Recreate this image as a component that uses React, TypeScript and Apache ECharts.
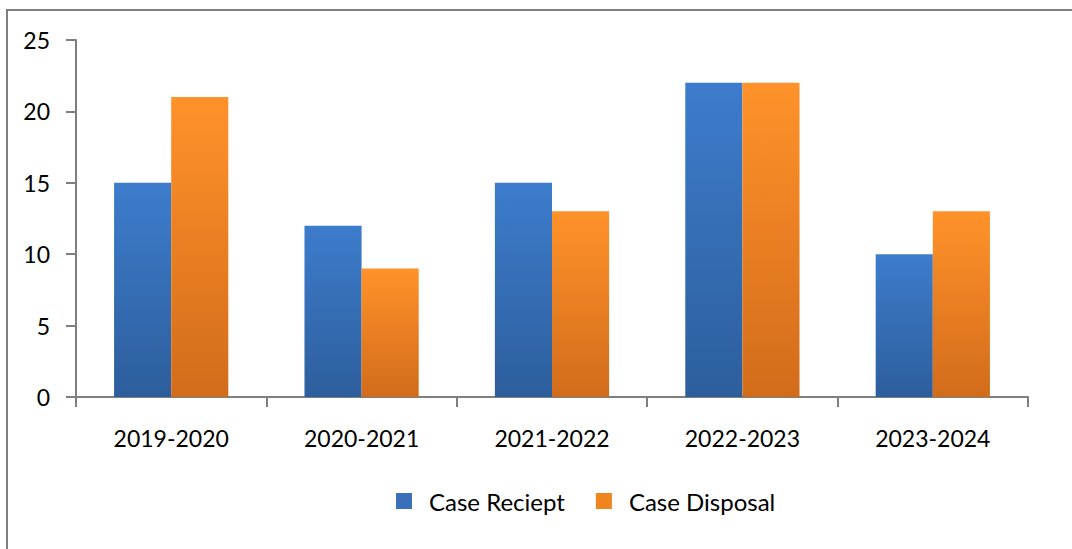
import React, { useEffect, useRef } from "react";
import * as echarts from "echarts";

const categories = ["2019-2020", "2020-2021", "2021-2022", "2022-2023", "2023-2024"];
const caseReceipt = [15, 12, 15, 22, 10];
const caseDisposal = [21, 9, 13, 22, 13];
const yTicks = [0, 5, 10, 15, 20, 25];

const FONT = "Lato, 'Open Sans', sans-serif";

export default function App() {
  const ref = useRef<HTMLDivElement>(null);
  useEffect(() => {
    document.body.style.margin = "0";
    const chart = echarts.init(ref.current!, null, { renderer: "svg" });
    const blue = new echarts.graphic.LinearGradient(0, 0, 0, 1, [
      { offset: 0, color: "#3d7ccc" },
      { offset: 1, color: "#2d5e9c" },
    ]);
    const orange = new echarts.graphic.LinearGradient(0, 0, 0, 1, [
      { offset: 0, color: "#ff922a" },
      { offset: 1, color: "#d26c1b" },
    ]);
    chart.setOption({
      animation: false,
      graphic: [
        {
          type: "rect",
          shape: { x: 7, y: 10, width: 1100, height: 600 },
          style: { fill: "none", stroke: "#7f7f7f", lineWidth: 2 },
          silent: true,
          z: -1,
        },
      ],
      grid: { left: 76, right: 44, top: 40, bottom: 152 },
      legend: {
        bottom: 31,
        left: 391,
        itemWidth: 16,
        itemHeight: 16,
        itemGap: 31,
        icon: "rect",
        textStyle: { fontFamily: FONT, fontSize: 24, color: "#000", padding: [0, 0, 0, 12] },
        data: [
          { name: "Case Reciept", itemStyle: { color: "#3a70b8" } },
          { name: "Case Disposal", itemStyle: { color: "#f0841f" } },
        ],
      },
      xAxis: {
        type: "category",
        data: categories,
        axisLine: { lineStyle: { color: "#7f7f7f", width: 2 } },
        axisTick: { show: true, length: 10, lineStyle: { color: "#7f7f7f", width: 2 } },
        axisLabel: { fontFamily: FONT, fontSize: 23, color: "#000", margin: 29 },
      },
      yAxis: {
        type: "value",
        min: yTicks[0],
        max: yTicks[yTicks.length - 1],
        interval: 5,
        axisLine: { show: true, lineStyle: { color: "#7f7f7f", width: 2 } },
        axisTick: { show: true, length: 10, lineStyle: { color: "#7f7f7f", width: 2 } },
        splitLine: { show: false },
        axisLabel: { fontFamily: FONT, fontSize: 23, color: "#000", margin: 26 },
      },
      series: [
        {
          name: "Case Reciept",
          type: "bar",
          data: caseReceipt,
          barGap: "0%",
          barCategoryGap: "40%",
          itemStyle: { color: blue },
        },
        {
          name: "Case Disposal",
          type: "bar",
          data: caseDisposal,
          itemStyle: { color: orange },
        },
      ],
    });
    return () => chart.dispose();
  }, []);
  return (
    <div
      ref={ref}
      style={{ position: "absolute", left: 0, top: 0, width: 1072, height: 549, background: "#fff" }}
    />
  );
}
